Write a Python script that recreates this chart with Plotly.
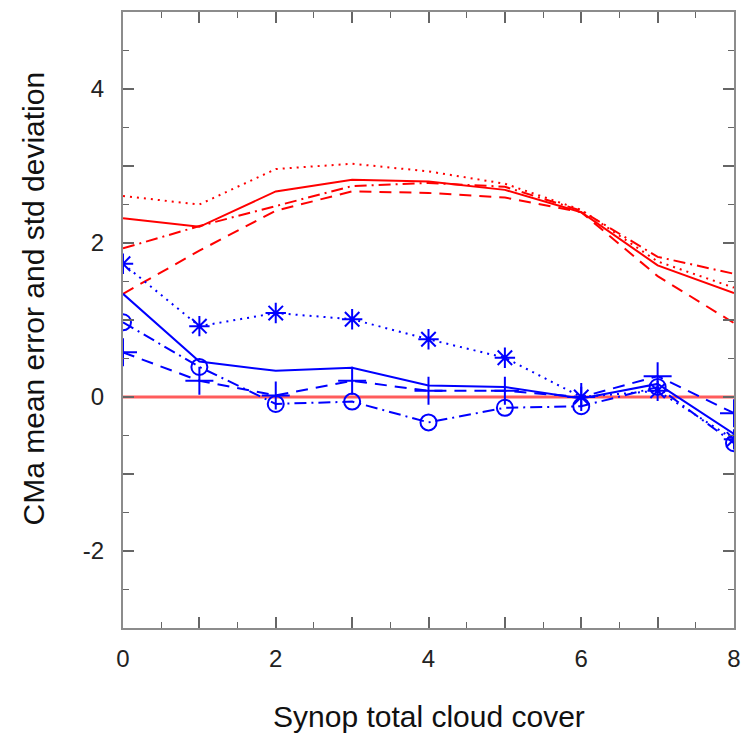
import plotly.graph_objects as go

# Synop total cloud cover classes (octas)
cloud_cover = [0, 1, 2, 3, 4, 5, 6, 7, 8]

# Standard deviation curves (red)
std_solid = [2.32, 2.21, 2.67, 2.82, 2.80, 2.69, 2.40, 1.71, 1.35]
std_dotted = [2.61, 2.50, 2.96, 3.03, 2.93, 2.77, 2.43, 1.76, 1.42]
std_dashed = [1.34, 1.90, 2.42, 2.67, 2.65, 2.59, 2.40, 1.57, 0.96]
std_dashdot = [1.93, 2.22, 2.48, 2.74, 2.78, 2.73, 2.42, 1.82, 1.60]

# Mean error curves (blue)
me_solid = [1.34, 0.46, 0.34, 0.38, 0.15, 0.13, -0.02, 0.17, -0.48]
me_dotted = [1.73, 0.92, 1.09, 1.01, 0.75, 0.51, 0.00, 0.08, -0.55]
me_dashed = [0.58, 0.21, 0.02, 0.21, 0.08, 0.08, 0.00, 0.27, -0.21]
me_dashdot = [0.97, 0.39, -0.09, -0.06, -0.33, -0.14, -0.12, 0.13, -0.60]

zero_line = [0, 0]

x_ticks = [0, 1, 2, 3, 4, 5, 6, 7, 8]
x_labels = ["0", "", "2", "", "4", "", "6", "", "8"]
y_ticks = [-3, -2, -1, 0, 1, 2, 3, 4, 5]
y_labels = ["", "-2", "", "0", "", "2", "", "4", ""]

RED = "#ff0000"
BLUE = "#0000ff"
DOT = "2px,5px"
DASH = "12px,8px"
DASHDOT = "12px,5px,2px,5px"

fig = go.Figure()

# zero reference line
fig.add_trace(go.Scatter(x=[cloud_cover[0], cloud_cover[-1]], y=zero_line, mode="lines",
                         line=dict(color="#ff5c5c", width=3), hoverinfo="skip"))

for ys, dash in [(std_solid, "solid"), (std_dotted, DOT), (std_dashed, DASH), (std_dashdot, DASHDOT)]:
    fig.add_trace(go.Scatter(x=cloud_cover, y=ys, mode="lines",
                             line=dict(color=RED, width=2, dash=dash)))

fig.add_trace(go.Scatter(x=cloud_cover, y=me_solid, mode="lines",
                         line=dict(color=BLUE, width=2)))
fig.add_trace(go.Scatter(x=cloud_cover, y=me_dotted, mode="lines+markers",
                         line=dict(color=BLUE, width=2, dash=DOT),
                         marker=dict(symbol="asterisk-open", size=17,
                                     line=dict(color=BLUE, width=2))))
fig.add_trace(go.Scatter(x=cloud_cover, y=me_dashed, mode="lines+markers",
                         line=dict(color=BLUE, width=2, dash=DASH),
                         marker=dict(symbol="cross-thin-open", size=20,
                                     line=dict(color=BLUE, width=2))))
fig.add_trace(go.Scatter(x=cloud_cover, y=me_dashdot, mode="lines+markers",
                         line=dict(color=BLUE, width=2, dash=DASHDOT),
                         marker=dict(symbol="circle-open", size=16,
                                     line=dict(color=BLUE, width=2))))

axis_common = dict(
    showgrid=False, zeroline=False, showline=True, linecolor="#8c8c8c", linewidth=2,
    mirror="allticks", ticks="inside", ticklen=11, tickwidth=1.5, tickcolor="#666666",
    tickfont=dict(family="Liberation Sans, Arial, sans-serif", size=24, color="#222222"),
    minor=dict(ticks="inside", ticklen=6, tickwidth=1.2, tickcolor="#666666", dtick=0.5),
)

fig.update_xaxes(range=[0, 8], tickmode="array", tickvals=x_ticks, ticktext=x_labels,
                 ticklabelstandoff=8, **axis_common)
fig.update_yaxes(range=[-3, 5], tickmode="array", tickvals=y_ticks, ticktext=y_labels,
                 ticklabelstandoff=12, **axis_common)

title_font = dict(family="Liberation Sans, Arial, sans-serif", size=30, color="#111111")
fig.add_annotation(text="Synop total cloud cover", xref="paper", yref="paper",
                   x=0.5, y=-0.113, xanchor="center", yanchor="top",
                   showarrow=False, font=title_font)
fig.add_annotation(text="CMa mean error and std deviation", xref="paper", yref="paper",
                   x=-0.117, y=0.535, xanchor="right", yanchor="middle", textangle=-90,
                   showarrow=False, font=title_font)

fig.update_layout(
    width=751, height=733,
    margin=dict(l=123, r=11, t=10, b=105),
    paper_bgcolor="white", plot_bgcolor="white",
    showlegend=False,
)

fig.write_html("out.html")
